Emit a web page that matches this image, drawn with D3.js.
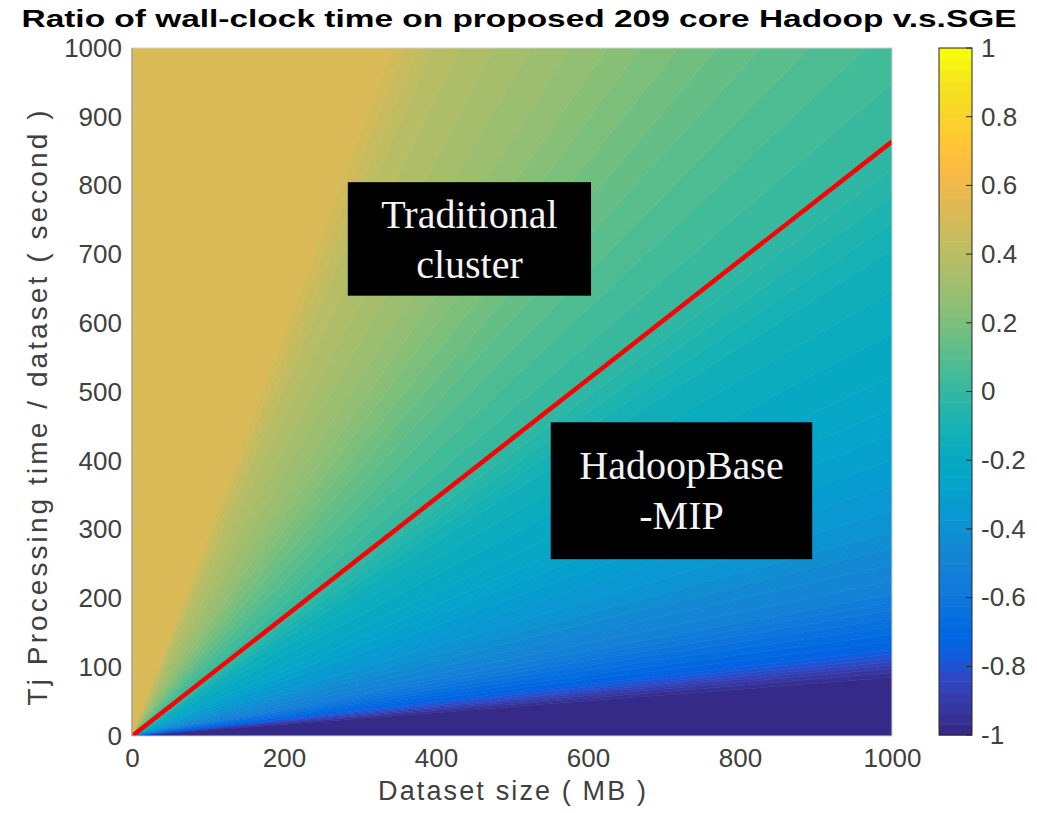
<!DOCTYPE html>
<html>
<head>
<meta charset="utf-8">
<script src="https://cdn.jsdelivr.net/npm/d3@7"></script>
<style>
  body { margin: 0; background: #fff; }
  svg { display: block; }
</style>
</head>
<body>
<div id="chart"></div>
<script>
// axis ticks
const xTicks = [0, 200, 400, 600, 800, 1000];
const yTicks = [0, 100, 200, 300, 400, 500, 600, 700, 800, 900, 1000];
const colorTicks = [-1, -0.8, -0.6, -0.4, -0.2, 0, 0.2, 0.4, 0.6, 0.8, 1];

// ratio (Tj seconds / MB) and value
const ratioStops = [0, 0.077, 0.096, 0.11, 0.125, 0.21, 0.31, 0.5, 0.7, 0.862, 1, 1.25, 1.43, 1.67, 2, 2.5, 2.92];
const valueStops = [-1, -1, -0.92, -0.83, -0.75, -0.52, -0.39, -0.23, -0.13, 0, 0.05, 0.14, 0.2, 0.27, 0.33, 0.4, 0.5];

// break-even line (value = 0)
const lineSize = [0, 1000];
const lineTime = [0, 864];

// boxes, in data units
const boxLabels = [["Traditional", "cluster"], ["HadoopBase", "-MIP"]];
const boxX = [[284, 604], [551, 895]];
const boxY = [[805, 640], [456, 257]];

// parula, 64 entries
const parula = ["#352a87","#363093","#3637a0","#353dad","#3243b9","#2c4ac7","#2053d4","#0f5cdd",
  "#0363e1","#0268e1","#046de0","#0871de","#0d75dc","#1079da","#127dd8","#1481d6",
  "#1485d4","#1389d3","#108ed2","#0c93d2","#0998d1","#079ccf","#06a0cd","#06a4ca",
  "#06a7c6","#07a9c2","#0aacbe","#0faeb9","#15b1b4","#1db3af","#25b5a9","#2eb7a4",
  "#38b99e","#42bb98","#4dbc92","#59bd8c","#65be86","#71bf80","#7cbf7b","#87bf77",
  "#92bf73","#9bbe6f","#a5be6b","#aebd67","#b7bd64","#c0bc60","#c8bb5d","#d1bb59",
  "#d9ba56","#e1b952","#e9b94e","#f1b94a","#f8ba44","#fdbe3d","#ffc337","#fec832",
  "#fcce2e","#f9d32a","#f7d826","#f5de21","#f5e41d","#f5eb18","#f6f313","#f9fb0e"];

const W = 1037, H = 813;
const margin = {left: 132, right: 145, top: 48, bottom: 77};

const svg = d3.select("#chart").append("svg")
  .attr("width", W).attr("height", H)
  .style("font-family", "'Liberation Sans', Arial, sans-serif");

const x = d3.scaleLinear().domain([0, 1000]).range([margin.left, W - margin.right]);
const y = d3.scaleLinear().domain([0, 1000]).range([H - margin.bottom, margin.top]);

const field = d3.scaleLinear().domain(ratioStops).range(valueStops).clamp(true);
const colorIndex = v => Math.max(0, Math.min(63, Math.floor((v + 1) / 2 * 64)));

// the field only depends on t/s, so it is drawn as wedges from the origin
function edgePoint(deg) {
  const t = Math.tan(deg * Math.PI / 180);
  if (deg <= 45) return [1000, 1000 * t];
  return [1000 / t, 1000];
}
const step = 0.05;
const bands = [];
let start = 0, cur = colorIndex(field(0));
for (let a = step; a <= 90 + 1e-9; a += step) {
  const mid = a - step / 2;
  const r = Math.tan(mid * Math.PI / 180);
  const ci = colorIndex(field(r));
  if (ci !== cur) {
    bands.push({a0: start, a1: a - step, ci: cur});
    start = a - step; cur = ci;
  }
}
bands.push({a0: start, a1: 90, ci: cur});

svg.append("defs").append("clipPath").attr("id", "plotclip")
  .append("rect")
  .attr("x", x(0)).attr("y", y(1000))
  .attr("width", x(1000) - x(0)).attr("height", y(0) - y(1000));

const plot = svg.append("g").attr("clip-path", "url(#plotclip)");

plot.selectAll("path.band")
  .data(bands)
  .join("path")
    .attr("class", "band")
    .attr("d", d => {
      const pts = [[0, 0], edgePoint(d.a0)];
      if (d.a0 < 45 && d.a1 > 45) pts.push([1000, 1000]);
      pts.push(edgePoint(Math.min(d.a1, 89.999)));
      if (d.a1 >= 90) pts.push([0, 1000]);
      return "M" + pts.map(p => x(p[0]) + "," + y(p[1])).join("L") + "Z";
    })
    .attr("fill", d => parula[d.ci])
    .attr("stroke", d => parula[d.ci])
    .attr("stroke-width", 0.6);

// red break-even line
plot.append("path")
  .datum(lineSize.map((s, i) => [s, lineTime[i]]))
  .attr("d", d3.line().x(d => x(d[0])).y(d => y(d[1])))
  .attr("fill", "none")
  .attr("stroke", "#ff0000")
  .attr("stroke-width", 4.5);

// plot frame
svg.append("rect")
  .attr("x", x(0)).attr("y", y(1000))
  .attr("width", x(1000) - x(0)).attr("height", y(0) - y(1000))
  .attr("fill", "none").attr("stroke", "#d0d0d0").attr("stroke-width", 1);
svg.append("line")
  .attr("x1", x(0)).attr("x2", x(0)).attr("y1", y(0)).attr("y2", y(1000))
  .attr("stroke", "#8a8a8a").attr("stroke-width", 1);

// axes
const xAxis = svg.append("g")
  .attr("transform", `translate(0,${y(0)})`)
  .call(d3.axisBottom(x).tickValues(xTicks).tickSize(0).tickPadding(13).tickFormat(d3.format("d")));
const yAxis = svg.append("g")
  .attr("transform", `translate(${x(0)},0)`)
  .call(d3.axisLeft(y).tickValues(yTicks).tickSize(0).tickPadding(10).tickFormat(d3.format("d")));
[xAxis, yAxis].forEach(g => {
  g.select(".domain").remove();
  g.selectAll("text").attr("fill", "#404040").style("font-size", "26px").style("font-family", "'Liberation Sans', Arial, sans-serif");
});

// axis labels
svg.append("text")
  .attr("x", (x(0) + x(1000)) / 2).attr("y", 800)
  .attr("text-anchor", "middle")
  .attr("fill", "#404040")
  .style("font-size", "27px")
  .attr("textLength", 268).attr("lengthAdjust", "spacing")
  .text("Dataset size ( MB )");

svg.append("text")
  .attr("transform", "translate(47,408) rotate(-90)")
  .attr("text-anchor", "middle")
  .attr("fill", "#404040")
  .style("font-size", "28px")
  .attr("textLength", 595).attr("lengthAdjust", "spacing")
  .text("Tj Processing time / dataset ( second )");

// title
svg.append("text")
  .attr("x", 519).attr("y", 27)
  .attr("text-anchor", "middle")
  .attr("fill", "#000")
  .style("font-size", "24px")
  .style("font-weight", "bold")
  .attr("textLength", 995).attr("lengthAdjust", "spacingAndGlyphs")
  .text("Ratio of wall-clock time on proposed 209 core Hadoop v.s.SGE");

// annotation boxes
const boxes = svg.selectAll("g.box")
  .data(boxLabels)
  .join("g").attr("class", "box");
boxes.append("rect")
  .attr("x", (d, i) => x(boxX[i][0]))
  .attr("y", (d, i) => y(boxY[i][0]))
  .attr("width", (d, i) => x(boxX[i][1]) - x(boxX[i][0]))
  .attr("height", (d, i) => y(boxY[i][1]) - y(boxY[i][0]))
  .attr("fill", "#000");
boxes.each(function(d, i) {
  const cx = (x(boxX[i][0]) + x(boxX[i][1])) / 2;
  const top = y(boxY[i][0]);
  const g = d3.select(this);
  d.forEach((line, j) => {
    g.append("text")
      .attr("x", cx)
      .attr("y", top + (i === 0 ? 46 : 57) + j * 50)
      .attr("text-anchor", "middle")
      .attr("fill", "#f4f4f4")
      .style("font-family", "'Liberation Serif', 'Times New Roman', serif")
      .style("font-size", "40px")
      .text(line);
  });
});

// colorbar
const cb = {x: 939, w: 33};
const cy = d3.scaleLinear().domain([-1, 1]).range([735, 48]);
const cbar = svg.append("g");
cbar.selectAll("rect.cell")
  .data(parula)
  .join("rect")
    .attr("class", "cell")
    .attr("x", cb.x)
    .attr("y", (d, i) => cy(-1 + (i + 1) * 2 / 64))
    .attr("width", cb.w)
    .attr("height", (d, i) => cy(-1 + i * 2 / 64) - cy(-1 + (i + 1) * 2 / 64) + 0.5)
    .attr("fill", d => d);
cbar.append("rect")
  .attr("x", cb.x).attr("y", cy(1))
  .attr("width", cb.w).attr("height", cy(-1) - cy(1))
  .attr("fill", "none").attr("stroke", "#262626").attr("stroke-width", 1);
cbar.selectAll("line.tk")
  .data(colorTicks)
  .join("line")
    .attr("class", "tk")
    .attr("x1", cb.x + cb.w - 6).attr("x2", cb.x + cb.w)
    .attr("y1", d => cy(d)).attr("y2", d => cy(d))
    .attr("stroke", "#262626").attr("stroke-width", 1);
const cAxis = svg.append("g")
  .attr("transform", `translate(${cb.x + cb.w},0)`)
  .call(d3.axisRight(cy).tickValues(colorTicks).tickSize(0).tickPadding(9)
    .tickFormat(d => String(+d.toFixed(1))));
cAxis.select(".domain").remove();
cAxis.selectAll("text").attr("fill", "#404040").style("font-size", "26px")
  .style("font-family", "'Liberation Sans', Arial, sans-serif");
</script>
</body>
</html>
